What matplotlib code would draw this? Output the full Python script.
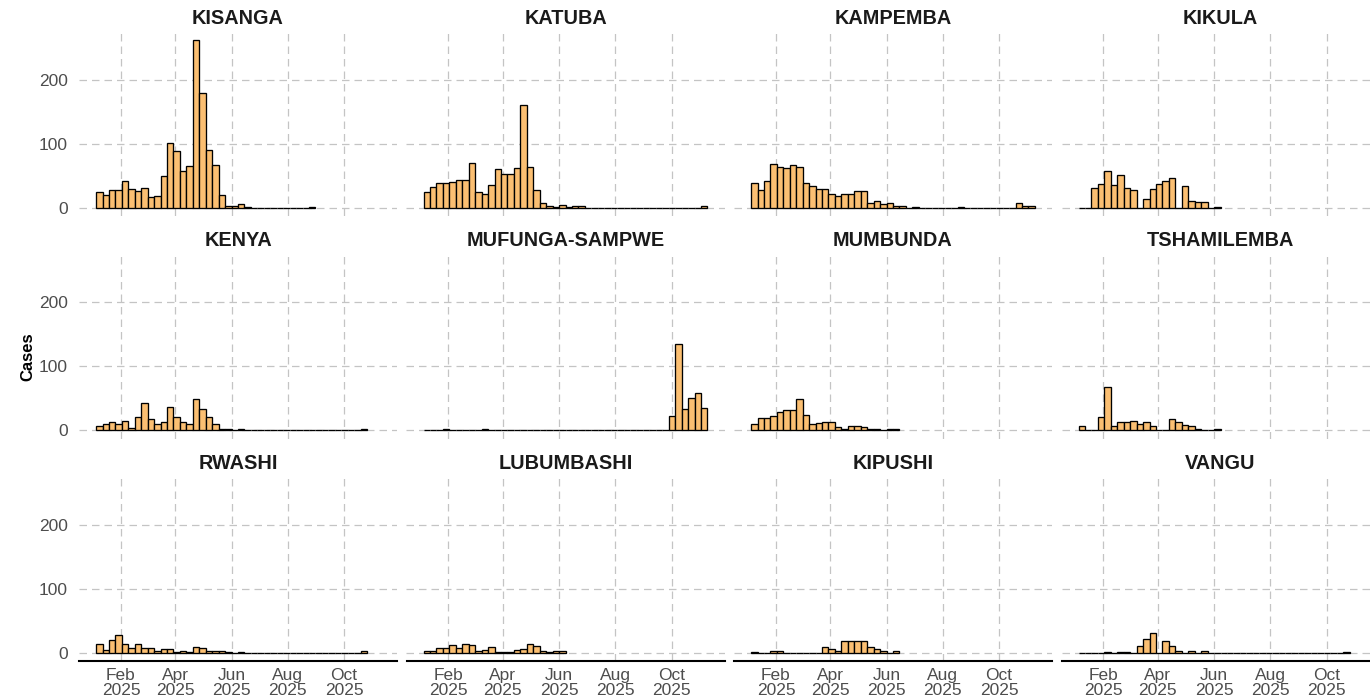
import matplotlib
matplotlib.use("Agg")
import matplotlib.pyplot as plt
import matplotlib.dates as mdates
import numpy as np
import pandas as pd

plt.rcParams['font.family'] = ['Liberation Sans', 'DejaVu Sans']

# ---------------- data (weekly case counts, weeks starting 2025-01-05) ----------------
districts = ["KISANGA", "KATUBA", "KAMPEMBA", "KIKULA",
             "KENYA", "MUFUNGA-SAMPWE", "MUMBUNDA", "TSHAMILEMBA",
             "RWASHI", "LUBUMBASHI", "KIPUSHI", "VANGU"]

kisanga = [24, 20, 27, 28, 41, 29, 26, 31, 17, 18, 50, 102, 89, 57, 65, 262, 179, 90, 67, 20,
           2, 3, 5, 1, 0, 0, 0, 0, 0, 0, 0, 0, 0, 1]
katuba = [25, 32, 38, 38, 40, 43, 43, 70, 25, 21, 35, 60, 52, 53, 62, 160, 63, 28, 8, 3,
          1, 4, 1, 3, 2, 0, 0, 0, 0, 0, 0, 0, 0, 0, 0, 0, 0, 0, 0, 0, 0, 0, 0, 2]
kampemba = [38, 27, 41, 69, 63, 62, 66, 63, 38, 34, 29, 29, 22, 18, 22, 22, 26, 26, 7, 11,
            5, 8, 3, 2, 0, 1, 0, 0, 0, 0, 0, 0, 1, 0, 0, 0, 0, 0, 0, 0, 0, 7, 3, 2]
kikula = [0, 0, 31, 37, 57, 35, 51, 30, 28, 0, 13, 29, 37, 42, 46, 0, 34, 11, 9, 9, 0, 1]
kenya = [6, 9, 12, 10, 14, 4, 21, 42, 17, 9, 13, 37, 20, 13, 9, 49, 33, 21, 9, 1,
         1, 0, 1, 0, 0, 0, 0, 0, 0, 0, 0, 0, 0, 0, 0, 0, 0, 0, 0, 0, 0, 1]
mufunga = [0, 0, 0, 1, 0, 0, 0, 0, 0, 1, 0, 0, 0, 0, 0, 0, 0, 0, 0, 0,
           0, 0, 0, 0, 0, 0, 0, 0, 0, 0, 0, 0, 0, 0, 0, 0, 0, 0, 22, 135, 33, 50, 58, 35]
mumbunda = [10, 19, 19, 22, 28, 31, 31, 48, 24, 9, 11, 13, 13, 5, 1, 7, 6, 5, 2, 1, 0, 2, 1]
tshamilemba = [6, 0, 0, 21, 67, 6, 13, 13, 14, 10, 13, 7, 0, 0, 18, 13, 8, 6, 1, 0, 0, 1]
rwashi = [14, 4, 20, 27, 13, 8, 13, 8, 8, 2, 5, 5, 1, 2, 1, 9, 7, 3, 2, 2,
          1, 0, 1, 0, 0, 0, 0, 0, 0, 0, 0, 0, 0, 0, 0, 0, 0, 0, 0, 0, 0, 2]
lubumbashi = [3, 3, 8, 8, 12, 7, 14, 12, 3, 4, 9, 1, 1, 1, 4, 6, 13, 11, 3, 1, 2, 2]
kipushi = [1, 0, 0, 2, 2, 0, 0, 0, 0, 0, 0, 9, 5, 2, 19, 19, 19, 19, 9, 5, 2, 0, 2]
vangu = [0, 0, 0, 0, 1, 0, 1, 1, 0, 11, 22, 30, 0, 18, 11, 2, 0, 2, 0, 2,
         0, 0, 0, 0, 0, 0, 0, 0, 0, 0, 0, 0, 0, 0, 0, 0, 0, 0, 0, 0, 0, 1]

series = [kisanga, katuba, kampemba, kikula,
          kenya, mufunga, mumbunda, tshamilemba,
          rwashi, lubumbashi, kipushi, vangu]

first_week = "2025-01-05"
n_weeks = max(len(s) for s in series)
weeks = pd.date_range(first_week, periods=n_weeks, freq="7D")

tick_dates = ["2025-02-01", "2025-04-01", "2025-06-01", "2025-08-01", "2025-10-01"]
tick_labels = ["Feb\n2025", "Apr\n2025", "Jun\n2025", "Aug\n2025", "Oct\n2025"]
y_ticks = [0, 100, 200]

# ---------------- style ----------------
FILL = "#FBBF72"
GRID = "#C4C4C4"
TICK_COL = "#4D4D4D"

W, H = 1370, 700
fig = plt.figure(figsize=(W / 100, H / 100), dpi=100)

ymax = max(max(s) for s in series)
ylim = (-0.05 * ymax, 1.05 * ymax)
x0 = mdates.date2num(weeks[0]) - 18.5
x1 = mdates.date2num(weeks[-1]) + 7 + 18.5
tick_nums = [mdates.date2num(pd.Timestamp(d)) for d in tick_dates]

panel_w, panel_h = 318, 184
col_pitch, row_pitch = 327.5, 222.5
left0, top0 = 79, 32

for i, (name, vals) in enumerate(zip(districts, series)):
    r, c = divmod(i, 4)
    lx = left0 + c * col_pitch
    ty = top0 + r * row_pitch
    ax = fig.add_axes([lx / W, 1 - (ty + panel_h) / H, panel_w / W, panel_h / H])
    ax.set_facecolor("white")
    xs = mdates.date2num(weeks[:len(vals)])
    ax.bar(xs, vals, width=7, align="edge", color=FILL, edgecolor="black",
           linewidth=0.95, zorder=3)
    ax.set_xlim(x0, x1)
    ax.set_ylim(*ylim)
    ax.set_xticks(tick_nums)
    ax.set_yticks(y_ticks)
    ax.grid(True, which="major", color=GRID, linewidth=0.9, linestyle=(0, (6, 4)), zorder=0)
    for sp in ax.spines.values():
        sp.set_visible(False)
    ax.tick_params(length=0)
    if r == 2:
        ax.spines["bottom"].set_visible(True)
        ax.spines["bottom"].set_linewidth(1.5)
        ax.spines["bottom"].set_color("black")
        ax.set_xticklabels(tick_labels, fontsize=12.5, color=TICK_COL, linespacing=1.0)
        ax.tick_params(axis="x", pad=5)
    else:
        ax.set_xticklabels([])
    if c == 0:
        ax.set_yticklabels([str(v) for v in y_ticks], fontsize=12.5, color=TICK_COL)
        ax.tick_params(axis="y", pad=8)
    else:
        ax.set_yticklabels([])
    ax.annotate(name, xy=(0.5, 1), xycoords="axes fraction", xytext=(0, 10),
                textcoords="offset points", ha="center", va="center",
                fontsize=14.3, fontweight="bold", color="#1A1A1A")

fig.text(28 / W, 1 - 357 / H, "Cases", rotation=90, ha="center", va="center",
         fontsize=12, fontweight="bold", color="black")

fig.savefig("out.png", dpi=100, facecolor="white")
